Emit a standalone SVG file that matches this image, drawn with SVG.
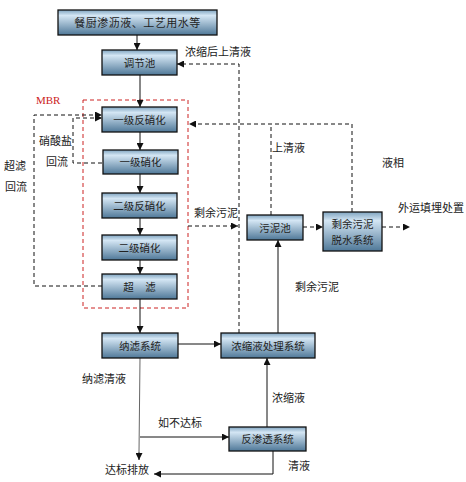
<svg xmlns="http://www.w3.org/2000/svg" width="466" height="482" viewBox="0 0 466 482">
<style>
.box{fill:url(#g);stroke:#111;stroke-width:1.3}
.t{font-family:"Liberation Sans","Noto Sans CJK SC",sans-serif;font-size:11px;fill:#222}
.b{font-size:10.5px;text-anchor:middle}
.s{fill:none;stroke:#111;stroke-width:1}
.d{fill:none;stroke:#111;stroke-width:1;stroke-dasharray:4,3}
.g2{fill:none;stroke:#666;stroke-width:1}
</style>
<defs>
<linearGradient id="g" x1="0" y1="0" x2="0" y2="1">
<stop offset="0" stop-color="#7fa4c0"/>
<stop offset="0.22" stop-color="#d4e6f4"/>
<stop offset="1" stop-color="#4f7898"/>
</linearGradient>
<marker id="a" viewBox="0 0 10 10" refX="10" refY="5" markerWidth="7" markerHeight="7" markerUnits="userSpaceOnUse" orient="auto">
<path d="M0,0 L10,5 L0,10 z" fill="#111"/>
</marker>
</defs>
<rect x="83" y="100" width="105" height="208" fill="none" stroke="#cc2222" stroke-width="1" stroke-dasharray="4,3"/>
<text x="36" y="104" font-family="Liberation Serif,serif" font-size="11" fill="#cc2222">MBR</text>
<g id="connectors">
<line class="s" x1="137" y1="35" x2="137" y2="50" marker-end="url(#a)"/>
<line class="s" x1="140" y1="75" x2="140" y2="107" marker-end="url(#a)"/>
<line class="s" x1="140" y1="132" x2="140" y2="150" marker-end="url(#a)"/>
<line class="s" x1="140" y1="174" x2="140" y2="193" marker-end="url(#a)"/>
<line class="s" x1="140" y1="218" x2="140" y2="235" marker-end="url(#a)"/>
<line class="s" x1="140" y1="260" x2="140" y2="274" marker-end="url(#a)"/>
<line class="s" x1="140" y1="299" x2="140" y2="333" marker-end="url(#a)"/>
<line class="s" x1="178" y1="344" x2="221" y2="344" marker-end="url(#a)"/>
<line class="g2" x1="140" y1="358" x2="139" y2="452"/>
<path d="M139,452 L139,460" class="s" marker-end="url(#a)"/>
<line class="s" x1="140" y1="437" x2="229" y2="437" marker-end="url(#a)"/>
<polyline class="s" points="273,451 273,474 154,474" marker-end="url(#a)"/>
<line class="s" x1="267" y1="427" x2="267" y2="358" marker-end="url(#a)"/>
<line class="s" x1="278" y1="333" x2="278" y2="240" marker-end="url(#a)"/>
<line class="d" x1="303" y1="227" x2="323" y2="227" marker-end="url(#a)"/>
<line class="d" x1="382" y1="227" x2="410" y2="227" marker-end="url(#a)"/>
<line class="d" x1="188" y1="226" x2="238" y2="226" marker-end="url(#a)"/>
<polyline class="d" points="239,333 239,64 177,64" marker-end="url(#a)"/>
<polyline class="d" points="352,212 352,124 189,124" marker-end="url(#a)"/>
<line class="d" x1="271" y1="215" x2="271" y2="124"/>
<polyline class="d" points="102,286 34,286 34,115 102,115" marker-end="url(#a)"/>
<polyline class="d" points="102,163 73,163 73,118 102,118" marker-end="url(#a)"/>
</g>
<g id="n1"><rect class="box" x="58" y="10" width="159" height="25"/><text class="t b" x="137.5" y="26.5" style="font-size:11px" letter-spacing="0.5">餐厨渗沥液、工艺用水等</text></g>
<g id="n2"><rect class="box" x="102" y="50" width="75" height="25"/><text class="t b" x="139.5" y="66.5">调节池</text></g>
<g id="n3"><rect class="box" x="102" y="107" width="75" height="25"/><text class="t b" x="139.5" y="123.5">一级反硝化</text></g>
<g id="n4"><rect class="box" x="103" y="150" width="75" height="24"/><text class="t b" x="140.5" y="166">一级硝化</text></g>
<g id="n5"><rect class="box" x="102" y="193" width="75" height="25"/><text class="t b" x="139.5" y="209.5">二级反硝化</text></g>
<g id="n6"><rect class="box" x="102" y="235" width="75" height="25"/><text class="t b" x="139.5" y="251.5">二级硝化</text></g>
<g id="n7"><rect class="box" x="102" y="274" width="75" height="25"/><text class="t b" x="139.5" y="290.5" xml:space="preserve">超    滤</text></g>
<g id="n8"><rect class="box" x="102" y="333" width="76" height="25"/><text class="t b" x="140" y="349.5">纳滤系统</text></g>
<g id="n9"><rect class="box" x="221" y="333" width="94" height="25"/><text class="t b" x="268" y="349.5">浓缩液处理系统</text></g>
<g id="n10"><rect class="box" x="229" y="427" width="77" height="24"/><text class="t b" x="267.5" y="443">反渗透系统</text></g>
<g id="n11"><rect class="box" x="247" y="215" width="56" height="25"/><text class="t b" x="275" y="231.5">污泥池</text></g>
<g id="n12"><rect class="box" x="323" y="212" width="59" height="39"/><text class="t b" x="352.5" y="228">剩余污泥</text><text class="t b" x="352.5" y="244">脱水系统</text></g>
<g id="labels">
<text class="t" x="185" y="56">浓缩后上清液</text>
<text class="t" x="272" y="152">上清液</text>
<text class="t" x="382" y="167">液相</text>
<text class="t" x="194" y="217">剩余污泥</text>
<text class="t" x="398" y="212">外运填埋处置</text>
<text class="t" x="295" y="291">剩余污泥</text>
<text class="t" x="39" y="145">硝酸盐</text>
<text class="t" x="46" y="166">回流</text>
<text class="t" x="4" y="170">超滤</text>
<text class="t" x="5" y="191">回流</text>
<text class="t" x="82" y="383">纳滤清液</text>
<text class="t" x="272" y="402">浓缩液</text>
<text class="t" x="158" y="427">如不达标</text>
<text class="t" x="288" y="470">清液</text>
<text class="t" x="105" y="474">达标排放</text>
</g>
</svg>
